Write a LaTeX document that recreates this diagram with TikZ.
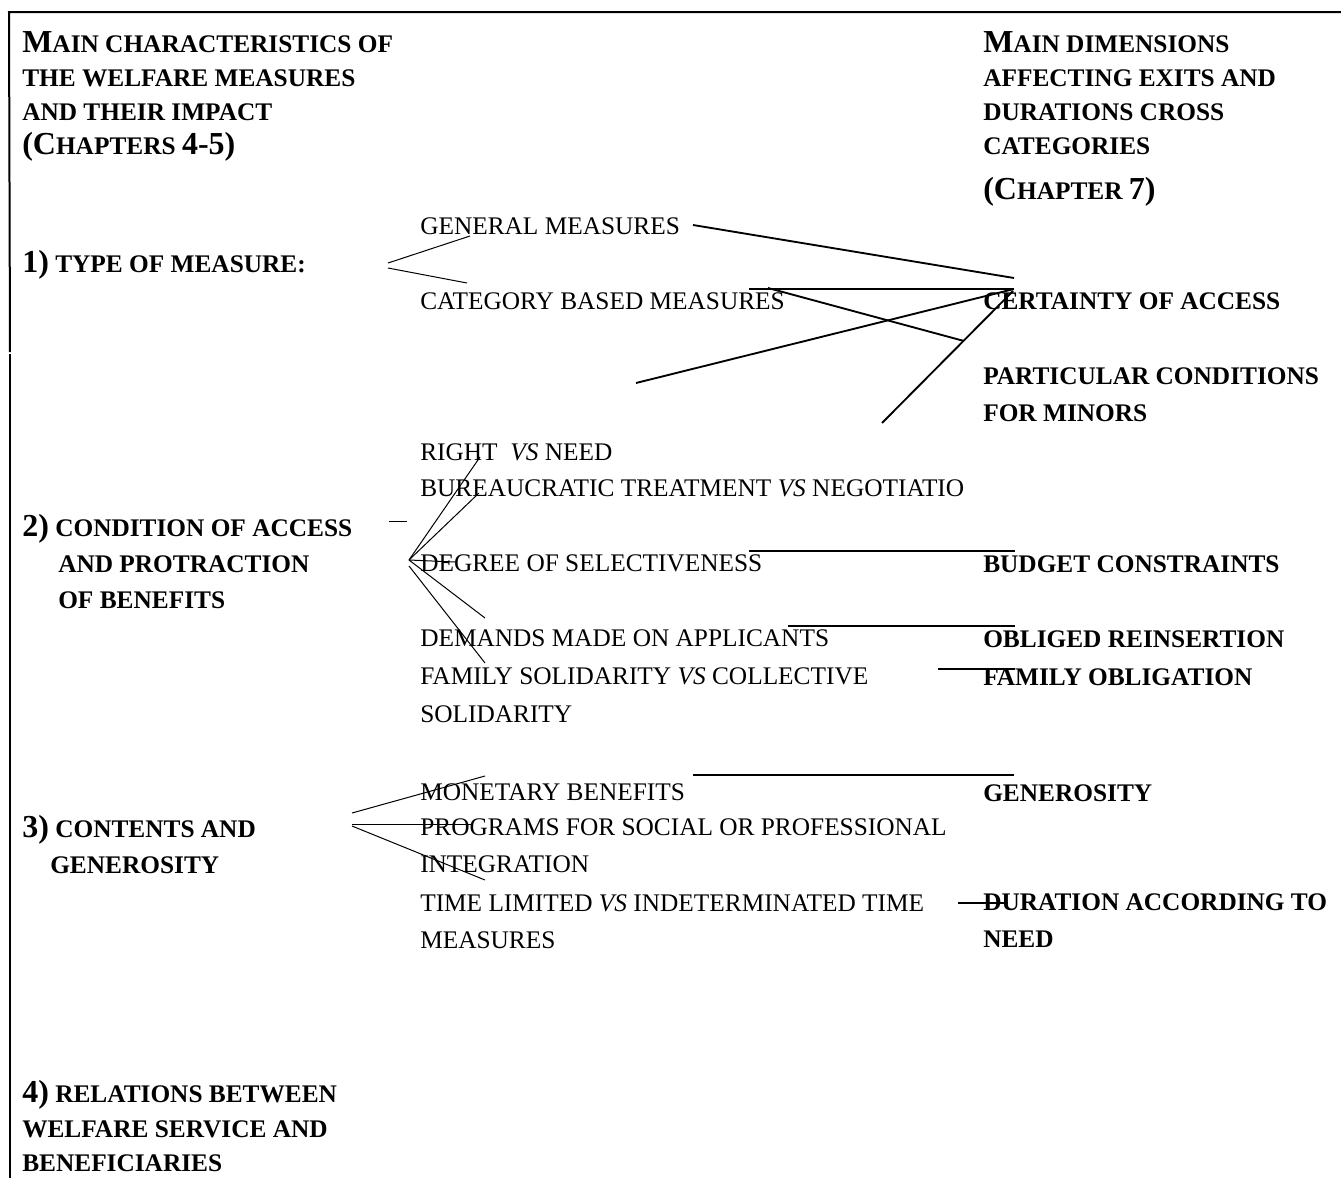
\documentclass[tikz,border=0pt]{standalone}
\usepackage{fontspec}
\setmainfont{Liberation Serif}
% capital letters at full size inside small-caps headings
\newcommand\Bg[1]{{\fontsize{24}{24}\selectfont #1}}
\begin{document}
\begin{tikzpicture}[x=0.75pt,y=-0.75pt,
  body/.style={anchor=base west,inner sep=0pt,font=\fontsize{19}{19}\selectfont},
  head/.style={anchor=base west,inner sep=0pt,font=\fontsize{19}{19}\selectfont\bfseries},
  frame/.style={line width=1.5pt},
  thin/.style={line width=0.75pt},
  link/.style={line width=1.4pt}]
\useasboundingbox (0,0) rectangle (1341,1178);

% frame: top rule and left rule
\coordinate (ftl) at (9,12);
\coordinate (ftr) at (1341,12);
\coordinate (fl1) at (10,352);
\coordinate (fl2) at (10,354);
\coordinate (fbl) at (10,1178);
\draw[frame] (ftr) -- (ftl) -- (fl1);
\draw[frame] (fl2) -- (fbl);

% left column headings
\node[head] (hl1) at (22,52) {\Bg{M}AIN CHARACTERISTICS OF};
\node[head] (hl2) at (22,86) {THE WELFARE MEASURES};
\node[head] (hl3) at (22,120) {AND THEIR IMPACT};
\node[head] (hl4) at (22,154) {\Bg{(C}HAPTERS \Bg{4-5)}};

\node[head] (t1) at (22,272) {\Bg{1)} TYPE OF MEASURE:};
\node[head] (t2a) at (22,536) {\Bg{2)} CONDITION OF ACCESS};
\node[head] (t2b) at (58,572) {AND PROTRACTION};
\node[head] (t2c) at (58,608) {OF BENEFITS};
\node[head] (t3a) at (22,837) {\Bg{3)} CONTENTS AND};
\node[head] (t3b) at (50,873) {GENEROSITY};
\node[head] (t4a) at (22,1102) {\Bg{4)} RELATIONS BETWEEN};
\node[head] (t4b) at (22,1137) {WELFARE SERVICE AND};
\node[head] (t4c) at (22,1171) {BENEFICIARIES};

% right column headings
\node[head] (hr1) at (983,52) {\Bg{M}AIN DIMENSIONS};
\node[head] (hr2) at (983,86) {AFFECTING EXITS AND};
\node[head] (hr3) at (983,120) {DURATIONS CROSS};
\node[head] (hr4) at (983,154) {CATEGORIES};
\node[head] (hr5) at (983,199) {\Bg{(C}HAPTER \Bg{7)}};

% middle column: characteristics
\node[body] (m1) at (420,234) {GENERAL MEASURES};
\node[body] (m2) at (420,309) {CATEGORY BASED MEASURES};
\node[body] (m3) at (420,460) {RIGHT \ \textit{VS} NEED};
\node[body] (m4) at (420,496) {BUREAUCRATIC TREATMENT \textit{VS} NEGOTIATIO};
\node[body] (m5) at (420,571) {DEGREE OF SELECTIVENESS};
\node[body] (m6) at (420,646) {DEMANDS MADE ON APPLICANTS};
\node[body] (m7) at (420,684) {FAMILY SOLIDARITY \textit{VS} COLLECTIVE};
\node[body] (m7b) at (420,722) {SOLIDARITY};
\node[body] (m8) at (420,800) {MONETARY BENEFITS};
\node[body] (m9) at (420,835) {PROGRAMS FOR SOCIAL OR PROFESSIONAL};
\node[body] (m9b) at (420,872) {INTEGRATION};
\node[body] (m10) at (420,911) {TIME LIMITED \textit{VS} INDETERMINATED TIME};
\node[body] (m10b) at (420,948) {MEASURES};

% right column: dimensions
\node[head] (d1) at (983,309) {CERTAINTY OF ACCESS};
\node[head] (d2) at (983,384) {PARTICULAR CONDITIONS};
\node[head] (d2b) at (983,421) {FOR MINORS};
\node[head] (d3) at (983,572) {BUDGET CONSTRAINTS};
\node[head] (d4) at (983,647) {OBLIGED REINSERTION};
\node[head] (d5) at (983,685) {FAMILY OBLIGATION};
\node[head] (d6) at (983,801) {GENEROSITY};
\node[head] (d7) at (983,910) {DURATION ACCORDING TO};
\node[head] (d7b) at (983,947) {NEED};

% bracket of type of measure
\coordinate (b1u) at (388,263);
\coordinate (b1l) at (388,268);
\coordinate (b1a) at (470,236);
\coordinate (b1b) at (467,283);
\draw[thin] (b1u) -- (b1a);
\draw[thin] (b1l) -- (b1b);

% bracket of condition of access
\coordinate (b2) at (409,560);
\coordinate (b2l) at (409,566);
\coordinate (b2a) at (480,457);
\coordinate (b2b) at (479,493);
\coordinate (b2c) at (455,562);
\coordinate (b2d) at (485,618);
\coordinate (b2e) at (485,663);
\coordinate (dsh1) at (389,521);
\coordinate (dsh2) at (407,521);
\draw[thin] (b2) -- (b2a);
\draw[thin] (b2) -- (b2b);
\draw[thin] (b2) -- (b2c);
\draw[thin] (b2) -- (b2d);
\draw[thin] (b2l) -- (b2e);
\draw[thin] (dsh1) -- (dsh2);

% bracket of contents and generosity
\coordinate (b3u) at (352,813);
\coordinate (b3m) at (352,824);
\coordinate (b3l) at (352,826);
\coordinate (b3a) at (485,776);
\coordinate (b3b) at (472,824);
\coordinate (b3c) at (485,880);
\draw[thin] (b3u) -- (b3a);
\draw[thin] (b3m) -- (b3b);
\draw[thin] (b3l) -- (b3c);

% links towards certainty of access
\coordinate (ca1) at (1014,278);
\coordinate (ca2) at (1014,289);
\coordinate (ca3) at (1013,291);
\coordinate (g1) at (693,225);
\coordinate (g2) at (749,289);
\coordinate (g3) at (636,383);
\coordinate (g4) at (882,423);
\coordinate (g5) at (768,288);
\coordinate (pc) at (964,341);
\draw[link] (g1) -- (ca1);
\draw[link] (g2) -- (ca2);
\draw[link] (g3) -- (ca2);
\draw[link] (g4) -- (ca3);
\draw[link] (g5) -- (pc);

% links towards the other dimensions
\coordinate (bc1) at (749,551);
\coordinate (bc2) at (1015,551);
\coordinate (or1) at (788,626);
\coordinate (or2) at (1015,626);
\coordinate (fo1) at (938,669);
\coordinate (fo2) at (1015,669);
\coordinate (ge1) at (693,775);
\coordinate (ge2) at (1014,775);
\coordinate (du1) at (958,903);
\coordinate (du2) at (1008,903);
\draw[link] (bc1) -- (bc2);
\draw[link] (or1) -- (or2);
\draw[link] (fo1) -- (fo2);
\draw[link] (ge1) -- (ge2);
\draw[link] (du1) -- (du2);
\end{tikzpicture}
\end{document}
